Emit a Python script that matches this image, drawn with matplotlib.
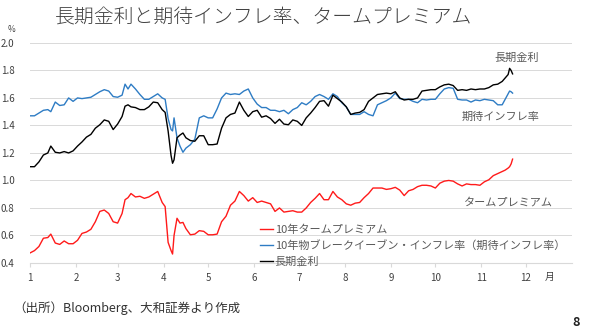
import matplotlib
matplotlib.use("Agg")
import matplotlib.pyplot as plt
import numpy as np

plt.rcParams['font.family'] = ['Noto Sans CJK JP', 'DejaVu Sans']

# days counted from 2025-01-01
day_offsets = [0, 3, 6, 9, 12, 14, 17, 20, 23, 26, 29, 32, 35, 38, 41, 44, 47, 50, 53, 56,
               59, 62, 64, 66, 68, 71, 74, 77, 80, 83, 86, 89, 91, 93, 95, 96, 97, 99, 101, 103,
               105, 108, 111, 114, 117, 120, 123, 126, 129, 132, 135, 138, 141, 144, 147, 150, 153, 156, 159, 162,
               165, 168, 171, 174, 177, 180, 183, 186, 189, 192, 195, 198, 201, 204, 207, 210, 213, 216, 219, 222,
               225, 228, 231, 234, 237, 240, 243, 246, 249, 252, 255, 258, 261, 264, 267, 270, 273, 276, 279, 282,
               285, 288, 291, 294, 297, 300, 303, 306, 309, 312, 315, 318, 320, 322, 323, 324, 325]

# 10年タームプレミアム
term_premium = [0.473, 0.49, 0.52, 0.58, 0.585, 0.61, 0.545, 0.535, 0.56, 0.54, 0.54, 0.565, 0.615, 0.625, 0.645, 0.70, 0.775, 0.785, 0.76, 0.70,
                0.69, 0.76, 0.86, 0.875, 0.905, 0.88, 0.885, 0.87, 0.88, 0.90, 0.92, 0.84, 0.81, 0.55, 0.49, 0.465, 0.60, 0.725, 0.69, 0.695,
                0.65, 0.605, 0.61, 0.635, 0.63, 0.605, 0.605, 0.61, 0.70, 0.74, 0.82, 0.85, 0.92, 0.89, 0.85, 0.875, 0.84, 0.85, 0.84, 0.83,
                0.775, 0.80, 0.77, 0.775, 0.78, 0.77, 0.77, 0.80, 0.84, 0.87, 0.905, 0.86, 0.86, 0.92, 0.88, 0.86, 0.83, 0.82, 0.835, 0.84,
                0.875, 0.905, 0.945, 0.945, 0.945, 0.935, 0.94, 0.95, 0.93, 0.89, 0.925, 0.935, 0.955, 0.965, 0.965, 0.96, 0.945, 0.98, 0.995, 1.00,
                0.995, 0.975, 0.96, 0.975, 0.97, 0.97, 0.965, 0.99, 1.005, 1.035, 1.05, 1.065, 1.075, 1.09, 1.10, 1.12, 1.155]

# 10年物ブレークイーブン・インフレ率
bei = [1.47, 1.47, 1.49, 1.51, 1.515, 1.50, 1.57, 1.545, 1.55, 1.60, 1.575, 1.60, 1.595, 1.60, 1.605, 1.625, 1.645, 1.66, 1.65, 1.61,
       1.605, 1.62, 1.70, 1.665, 1.70, 1.665, 1.625, 1.59, 1.59, 1.61, 1.63, 1.60, 1.59, 1.45, 1.37, 1.36, 1.455, 1.31, 1.25, 1.205,
       1.235, 1.26, 1.30, 1.455, 1.47, 1.455, 1.455, 1.52, 1.60, 1.635, 1.625, 1.63, 1.625, 1.65, 1.665, 1.60, 1.555, 1.53, 1.53, 1.51,
       1.51, 1.50, 1.51, 1.485, 1.515, 1.53, 1.565, 1.55, 1.575, 1.61, 1.625, 1.61, 1.59, 1.63, 1.61, 1.565, 1.535, 1.48, 1.48, 1.48,
       1.50, 1.48, 1.47, 1.55, 1.565, 1.58, 1.60, 1.635, 1.595, 1.59, 1.59, 1.575, 1.565, 1.59, 1.585, 1.59, 1.59, 1.63, 1.665, 1.675,
       1.67, 1.59, 1.585, 1.585, 1.57, 1.585, 1.58, 1.59, 1.585, 1.58, 1.55, 1.55, 1.59, 1.63, 1.65, 1.645, 1.635]

# 長期金利
jgb10y = [1.10, 1.10, 1.135, 1.185, 1.20, 1.25, 1.205, 1.20, 1.21, 1.20, 1.215, 1.25, 1.28, 1.315, 1.335, 1.38, 1.405, 1.44, 1.43, 1.37,
          1.41, 1.465, 1.54, 1.55, 1.535, 1.53, 1.515, 1.515, 1.535, 1.57, 1.565, 1.515, 1.495, 1.36, 1.18, 1.125, 1.15, 1.31, 1.33, 1.345,
          1.31, 1.29, 1.285, 1.325, 1.325, 1.26, 1.26, 1.265, 1.38, 1.455, 1.48, 1.49, 1.57, 1.51, 1.465, 1.50, 1.51, 1.46, 1.47, 1.45,
          1.415, 1.445, 1.41, 1.405, 1.44, 1.43, 1.40, 1.455, 1.49, 1.53, 1.575, 1.58, 1.54, 1.62, 1.595, 1.57, 1.535, 1.48, 1.49, 1.495,
          1.515, 1.575, 1.60, 1.625, 1.63, 1.635, 1.63, 1.645, 1.60, 1.585, 1.59, 1.59, 1.60, 1.65, 1.655, 1.66, 1.66, 1.68, 1.695, 1.70,
          1.69, 1.655, 1.66, 1.655, 1.665, 1.66, 1.665, 1.665, 1.675, 1.695, 1.70, 1.72, 1.745, 1.77, 1.815, 1.80, 1.775]

month_labels = [str(m) for m in range(1, 13)]
y_ticks = [0.4, 0.6, 0.8, 1.0, 1.2, 1.4, 1.6, 1.8, 2.0]

dates = np.datetime64('2025-01-01') + np.array(day_offsets).astype('timedelta64[D]')
month_starts = np.arange('2025-01', '2026-01', dtype='datetime64[M]').astype('datetime64[D]')

fig = plt.figure(figsize=(5.91, 3.36), dpi=100)
ax = fig.add_axes([0.0508, 0.2173, 0.917, 0.655])

ax.plot(dates, term_premium, color='#ff1a1a', lw=1.0, label='10年タームプレミアム')
ax.plot(dates, bei, color='#2e7cc4', lw=1.0, label='10年物ブレークイーブン・インフレ率（期待インフレ率）')
ax.plot(dates, jgb10y, color='black', lw=1.0, label='長期金利')

ax.set_xlim(np.datetime64('2025-01-01'), np.datetime64('2026-01-01'))
ax.set_ylim(0.4, 2.0)
ax.set_yticks(y_ticks)
ax.set_yticklabels(['{:.1f}'.format(v) for v in y_ticks])
ax.set_xticks(month_starts)
ax.set_xticklabels(month_labels)

ax.grid(axis='y', color='#d9d9d9', lw=0.7)
ax.set_axisbelow(True)
for s in ['top', 'right', 'left']:
    ax.spines[s].set_visible(False)
ax.spines['bottom'].set_color('#d9d9d9')
ax.tick_params(axis='y', length=0, labelsize=7, colors='#404040', pad=11)
ax.tick_params(axis='x', length=3, color='#d9d9d9', labelsize=7, labelcolor='#404040', pad=4)

ax.legend(loc='upper left', bbox_to_anchor=(0.415, 0.20), frameon=False, fontsize=8,
          handlelength=1.1, handletextpad=0.2, labelspacing=0.48, borderpad=0,
          labelcolor='#595959')

# series labels
ax.text(np.datetime64('2025-12-10'), 1.89, '長期金利', fontsize=8, color='#595959', ha='right', va='center')
ax.text(np.datetime64('2025-12-10'), 1.46, '期待インフレ率', fontsize=8, color='#595959', ha='right', va='center')
ax.text(np.datetime64('2025-12-19'), 0.84, 'タームプレミアム', fontsize=8, color='#595959', ha='right', va='center')

fig.text(8 / 591, 1 - 30 / 336, '%', fontsize=6, color='#404040', ha='left', va='center')
fig.text(545 / 591, 1 - 277 / 336, '月', fontsize=7, color='#404040', ha='left', va='center')
fig.text(55 / 591, 1 - 18 / 336, '長期金利と期待インフレ率、タームプレミアム', fontsize=14.3,
         fontweight='light', color='#404040', ha='left', va='center')
fig.text(13 / 591, 1 - 308 / 336, '（出所）Bloomberg、大和証券より作成', fontsize=9,
         color='#333333', ha='left', va='center')
fig.text(580 / 591, 1 - 322 / 336, '8', fontsize=9, fontweight='bold', color='#222222',
         ha='right', va='center')

fig.savefig('out.png', dpi=100)
